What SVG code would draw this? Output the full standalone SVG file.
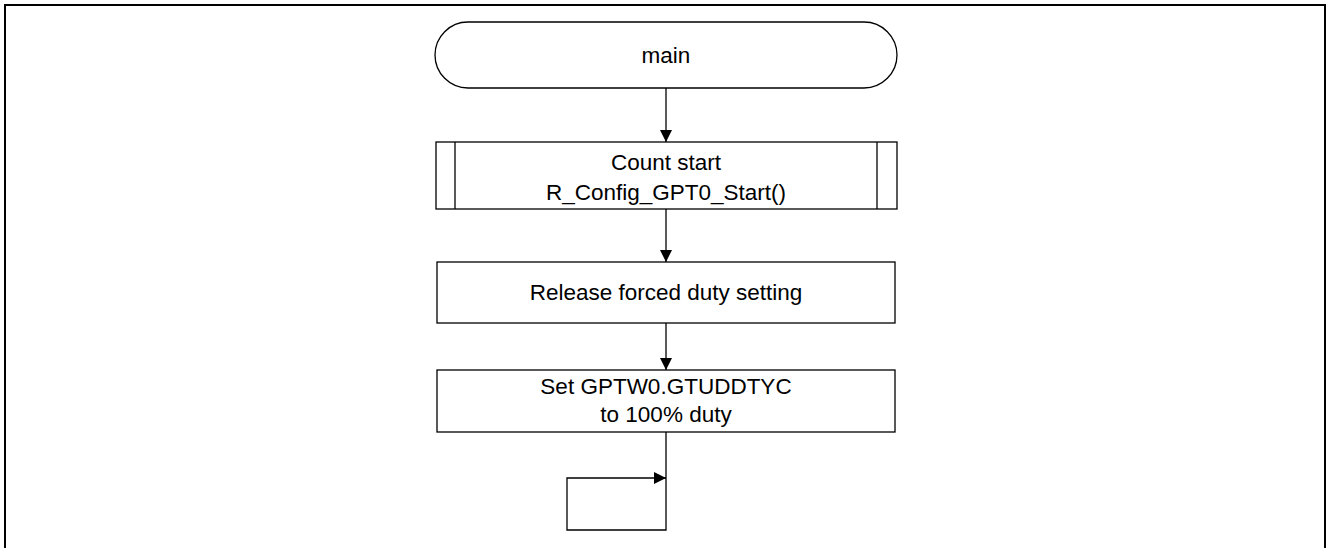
<svg xmlns="http://www.w3.org/2000/svg" width="1328" height="548" viewBox="0 0 1328 548">
<defs>
<marker id="arr" markerWidth="12" markerHeight="12" refX="12" refY="6" orient="auto" markerUnits="userSpaceOnUse">
<path d="M0,0 L12,6 L0,12 Z" fill="#000"/>
</marker>
<style>
.shape{fill:#fff;stroke:#000;stroke-width:1.3}
.line{fill:none;stroke:#000;stroke-width:1.3}
text{font-family:"Liberation Sans",Arial,sans-serif;font-size:22.5px;fill:#000;text-anchor:middle}
</style>
</defs>
<rect x="5" y="5" width="1320" height="560" fill="none" stroke="#000" stroke-width="2"/>
<g id="connectors">
<line class="line" x1="666" y1="88" x2="666" y2="142" marker-end="url(#arr)"/>
<line class="line" x1="666" y1="209" x2="666" y2="262" marker-end="url(#arr)"/>
<line class="line" x1="666" y1="323" x2="666" y2="370" marker-end="url(#arr)"/>
<path class="line" d="M666,432 V530 H567 V478 H666" marker-end="url(#arr)"/>
</g>
<g id="main">
<rect class="shape" x="435" y="22" width="462" height="66" rx="33" ry="33"/>
<text x="666" y="63">main</text>
</g>
<g id="count-start">
<rect class="shape" x="436" y="142" width="461" height="67"/>
<line class="line" x1="455" y1="142" x2="455" y2="209"/>
<line class="line" x1="877" y1="142" x2="877" y2="209"/>
<text x="666" y="170">Count start</text>
<text x="666" y="200">R_Config_GPT0_Start()</text>
</g>
<g id="release">
<rect class="shape" x="437" y="262" width="458" height="61"/>
<text x="666" y="300">Release forced duty setting</text>
</g>
<g id="set-duty">
<rect class="shape" x="437" y="370" width="458" height="62"/>
<text x="666" y="394">Set GPTW0.GTUDDTYC</text>
<text x="666" y="422">to 100% duty</text>
</g>
</svg>
